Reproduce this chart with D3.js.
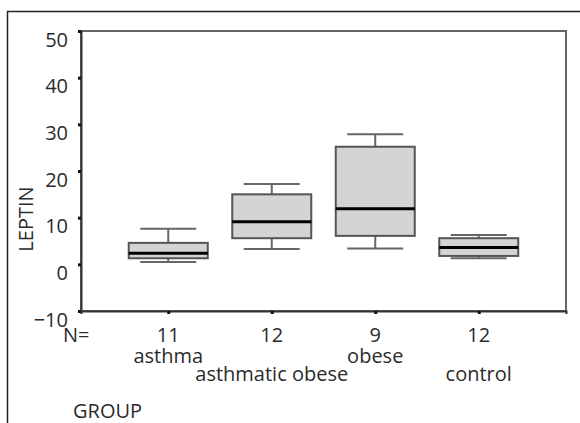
<!DOCTYPE html>
<html>
<head>
<meta charset="utf-8">
<script src="https://cdn.jsdelivr.net/npm/d3@7"></script>
<style>
  body { margin: 0; background: #fff; }
  text { font-family: "Open Sans", sans-serif; fill: #2b2b2b; }
</style>
</head>
<body>
<div id="chart"></div>
<script>
// box plot data
var groups = ["asthma", "asthmatic obese", "obese", "control"];
var counts = [11, 12, 9, 12];
var whiskerLow = [0.5, 3.3, 3.4, 1.3];
var q1 = [1.3, 5.6, 6.1, 1.8];
var median = [2.4, 9.1, 11.9, 3.6];
var q3 = [4.6, 15.0, 25.2, 5.6];
var whiskerHigh = [7.6, 17.2, 27.9, 6.3];
var yTicks = [-10, 0, 10, 20, 30, 40, 50];

var svgWidth = 580;
var svgHeight = 423;
var margin = { top: 31, right: 14, bottom: 112, left: 81 };
var width = svgWidth - margin.left - margin.right;
var height = svgHeight - margin.top - margin.bottom;

var svg = d3.select("#chart")
  .append("svg")
  .attr("width", svgWidth)
  .attr("height", svgHeight);

// outer frame (clipped at the right and bottom)
svg.append("path")
  .attr("d", "M7.5," + svgHeight + "V11.5H" + svgWidth)
  .attr("fill", "none")
  .attr("stroke", "#222")
  .attr("stroke-width", 1.5);

var chartGroup = svg.append("g")
  .attr("transform", `translate(${margin.left}, ${margin.top})`);

var xScale = d3.scalePoint()
  .domain(groups)
  .range([0, width])
  .padding(0.843);

var yScale = d3.scaleLinear()
  .domain([-10, 50])
  .range([height, 0]);

var boxWidth = 79;
var capWidth = 56;

var data = groups.map(function(g, i) {
  return { group: g, n: counts[i], lo: whiskerLow[i], q1: q1[i], med: median[i], q3: q3[i], hi: whiskerHigh[i] };
});

// plot frame
chartGroup.append("rect")
  .attr("x", 0)
  .attr("y", 0)
  .attr("width", width)
  .attr("height", height)
  .attr("fill", "none")
  .attr("stroke", "#666")
  .attr("stroke-width", 2);

// y axis
var leftAxis = d3.axisLeft(yScale)
  .tickValues(yTicks)
  .tickSize(3)
  .tickPadding(10);

var yAxis = chartGroup.append("g").call(leftAxis);
yAxis.select(".domain").attr("stroke", "#333").attr("stroke-width", 2);
yAxis.selectAll(".tick line").attr("stroke", "#111").attr("stroke-width", 3);
yAxis.selectAll(".tick text")
  .attr("font-size", "20px")
  .attr("dy", "0.75em");

// x axis (only small tick dots)
var bottomAxis = d3.axisBottom(xScale).tickSize(3).tickFormat("");
var xAxis = chartGroup.append("g")
  .attr("transform", `translate(0, ${height})`)
  .call(bottomAxis);
xAxis.select(".domain").attr("stroke", "#333").attr("stroke-width", 2);
xAxis.selectAll(".tick line").attr("stroke", "#111").attr("stroke-width", 3);

// boxes
var boxes = chartGroup.selectAll(".box")
  .data(data)
  .enter()
  .append("g")
  .attr("class", "box")
  .attr("transform", d => `translate(${xScale(d.group)}, 0)`);

// whisker stems
boxes.append("line")
  .attr("x1", 0).attr("x2", 0)
  .attr("y1", d => yScale(d.hi))
  .attr("y2", d => yScale(d.q3))
  .attr("stroke", "#666").attr("stroke-width", 2);
boxes.append("line")
  .attr("x1", 0).attr("x2", 0)
  .attr("y1", d => yScale(d.q1))
  .attr("y2", d => yScale(d.lo))
  .attr("stroke", "#666").attr("stroke-width", 2);

// whisker caps
boxes.append("line")
  .attr("x1", -capWidth / 2).attr("x2", capWidth / 2)
  .attr("y1", d => yScale(d.hi)).attr("y2", d => yScale(d.hi))
  .attr("stroke", "#666").attr("stroke-width", 2);
boxes.append("line")
  .attr("x1", -capWidth / 2).attr("x2", capWidth / 2)
  .attr("y1", d => yScale(d.lo)).attr("y2", d => yScale(d.lo))
  .attr("stroke", "#666").attr("stroke-width", 2);

boxes.append("rect")
  .attr("x", -boxWidth / 2)
  .attr("width", boxWidth)
  .attr("y", d => yScale(d.q3))
  .attr("height", d => yScale(d.q1) - yScale(d.q3))
  .attr("fill", "#d4d4d4")
  .attr("stroke", "#555")
  .attr("stroke-width", 2);

boxes.append("line")
  .attr("x1", -boxWidth / 2).attr("x2", boxWidth / 2)
  .attr("y1", d => yScale(d.med)).attr("y2", d => yScale(d.med))
  .attr("stroke", "#000").attr("stroke-width", 3);

// N= counts and group names under the axis
chartGroup.append("text")
  .attr("x", -18)
  .attr("y", height + 31)
  .attr("text-anchor", "start")
  .attr("font-size", "20px")
  .text("N=");

chartGroup.selectAll(".count")
  .data(data)
  .enter()
  .append("text")
  .attr("class", "count")
  .attr("x", d => xScale(d.group))
  .attr("y", height + 31)
  .attr("text-anchor", "middle")
  .attr("font-size", "20px")
  .text(d => d.n);

chartGroup.selectAll(".group-label")
  .data(data)
  .enter()
  .append("text")
  .attr("class", "group-label")
  .attr("x", d => xScale(d.group))
  .attr("y", (d, i) => height + (i % 2 === 0 ? 52 : 70))
  .attr("text-anchor", "middle")
  .attr("font-size", "20px")
  .text(d => d.group);

// axis titles
svg.append("text")
  .attr("transform", "translate(33, 219) rotate(-90)")
  .attr("text-anchor", "middle")
  .attr("font-size", "20px")
  .text("LEPTIN");

svg.append("text")
  .attr("x", 73)
  .attr("y", 418)
  .attr("font-size", "20px")
  .text("GROUP");
</script>
</body>
</html>
